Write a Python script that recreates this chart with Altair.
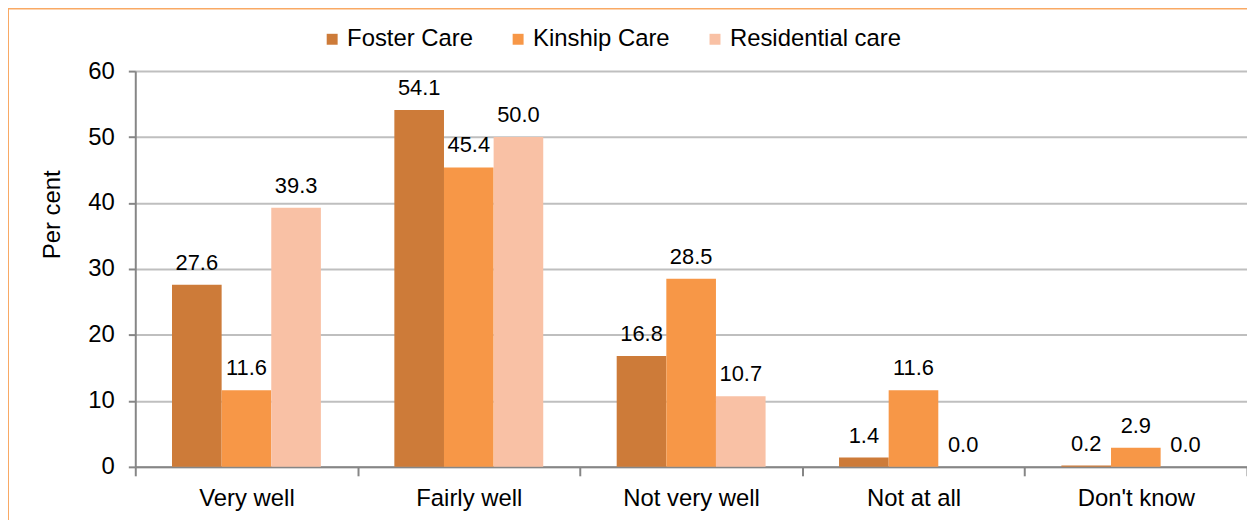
import altair as alt
import pandas as pd

categories = ["Very well", "Fairly well", "Not very well", "Not at all", "Don't know"]
series = ["Foster Care", "Kinship Care", "Residential care"]
foster = [27.6, 54.1, 16.8, 1.4, 0.2]
kinship = [11.6, 45.4, 28.5, 11.6, 2.9]
residential = [39.3, 50.0, 10.7, 0.0, 0.0]
colors = ["#CD7B39", "#F79747", "#F9C1A5"]
y_ticks = [0, 10, 20, 30, 40, 50, 60]

rows = []
for s, vals in zip(series, [foster, kinship, residential]):
    for c, v in zip(categories, vals):
        rows.append({"category": c, "series": s, "value": v})
df = pd.DataFrame(rows)

FONT = "Liberation Sans"
W, H = 1118, 398

x_scale = alt.Scale(paddingInner=0, paddingOuter=0)
x_enc = alt.X("category:N", sort=categories, title=None, scale=x_scale,
              axis=alt.Axis(labelFontSize=24, labelColor="#000000", labelFont=FONT,
                            labelAngle=0, labelPadding=11, tickSize=9, tickWidth=2,
                            tickColor="#868686", domainColor="#868686", domainWidth=2,
                            tickBand="extent", grid=False))
xo = alt.XOffset("series:N", sort=series,
                 scale=alt.Scale(paddingInner=0, paddingOuter=0.74))

base = alt.Chart(df)

bars = base.mark_bar().encode(
    x=x_enc,
    xOffset=xo,
    y=alt.Y("value:Q", scale=alt.Scale(domain=[0, 60], nice=False),
            axis=alt.Axis(values=y_ticks, title="Per cent", titleFontSize=24,
                          titleFont=FONT, titleFontWeight="normal", titleColor="#000000",
                          titleAngle=270, titleX=-83, titleY=144, titleAlign="center",
                          titleBaseline="middle",
                          labelFontSize=24, labelFont=FONT, labelColor="#000000",
                          labelPadding=14, tickSize=7, tickWidth=2, tickColor="#868686",
                          domainColor="#868686", domainWidth=2,
                          gridColor="#BFBFBF", gridWidth=2)),
    color=alt.Color("series:N", sort=series,
                    scale=alt.Scale(domain=series, range=colors),
                    legend=alt.Legend(orient="none", legendX=186, legendY=-44,
                                      direction="horizontal", title=None,
                                      symbolType="square", symbolSize=121,
                                      symbolStrokeWidth=0,
                                      labelFontSize=24, labelFont=FONT,
                                      labelColor="#000000", labelOffset=3,
                                      labelLimit=400, columnPadding=33)),
)

labels = base.mark_text(baseline="alphabetic", dy=-15, fontSize=22, font=FONT,
                        color="#000000").encode(
    x=alt.X("category:N", sort=categories, scale=x_scale),
    xOffset=xo,
    y=alt.Y("value:Q"),
    text=alt.Text("value:Q", format=".1f"),
)

border_data = alt.Data(values=[{"k": 1}])
border_top = alt.Chart(border_data).mark_rule(color="#F9A964", strokeWidth=2).encode(
    x=alt.value(-128), x2=alt.value(W + 10), y=alt.value(-63))
border_left = alt.Chart(border_data).mark_rule(color="#F9A964", strokeWidth=2).encode(
    x=alt.value(-128), y=alt.value(-63), y2=alt.value(H + 60))

chart = alt.layer(bars, labels, border_top, border_left).properties(
    width=W, height=H,
    autosize=alt.AutoSizeParams(type="none"),
    padding={"left": 128, "top": 62, "right": 0, "bottom": 52},
).configure_view(stroke=None).configure_axis(labelFont=FONT)

chart.save("out.html", embed_options={"renderer": "svg", "actions": False})
